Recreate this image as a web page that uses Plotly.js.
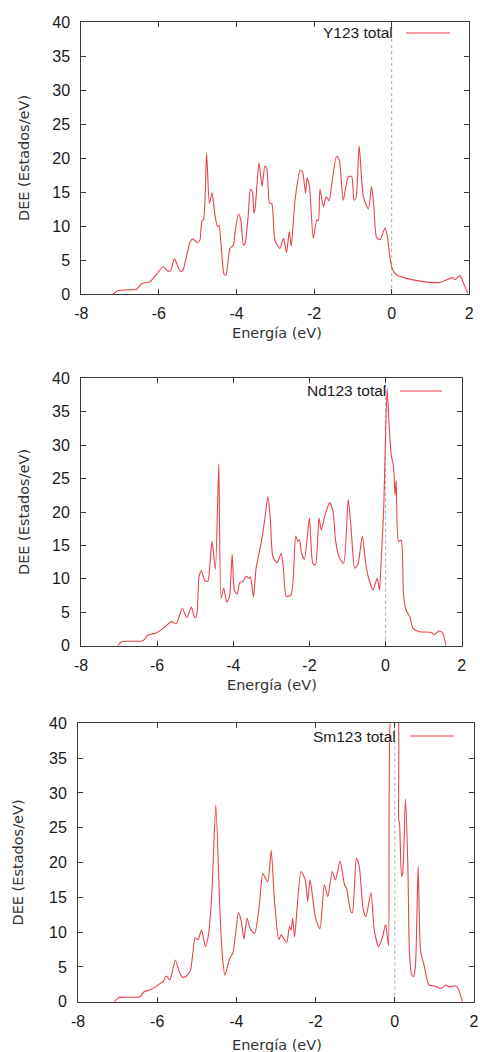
<!DOCTYPE html>
<html>
<head>
<meta charset="utf-8">
<script src="https://cdn.plot.ly/plotly-3.0.1.min.js"></script>
<style>
  html, body { margin: 0; padding: 0; background: #ffffff; }
  #chart { width: 480px; height: 1052px; }
</style>
</head>
<body>
<div id="chart"></div>
<script>
// ---------- data ----------
const xTickVals = [-8, -6, -4, -2, 0, 2];
const xTickText = ["-8", "-6", "-4", "-2", "0", "2"];
const yTickVals = [0, 5, 10, 15, 20, 25, 30, 35, 40];
const yTickText = ["0", "5", "10", "15", "20", "25", "30", "35", "40"];

const seriesNames = ["Y123 total", "Nd123 total", "Sm123 total"];
const xTitle = "Energía (eV)";
const yTitle = "DEE (Estados/eV)";

const energyY = [-7.18,-7.05,-6.80,-6.57,-6.45,-6.23,-6.06,-5.89,-5.78,-5.70,-5.60,-5.46,-5.39,-5.20,-5.13,-5.00,-4.94,-4.89,-4.85,-4.77,-4.70,-4.63,-4.56,-4.49,-4.45,-4.39,-4.32,-4.27,-4.17,-4.08,-4.04,-3.95,-3.89,-3.82,-3.78,-3.70,-3.64,-3.59,-3.55,-3.52,-3.42,-3.34,-3.27,-3.22,-3.15,-3.09,-3.01,-2.88,-2.79,-2.71,-2.64,-2.59,-2.49,-2.36,-2.30,-2.22,-2.18,-2.12,-2.02,-1.93,-1.89,-1.85,-1.76,-1.69,-1.61,-1.55,-1.42,-1.35,-1.25,-1.12,-1.03,-0.97,-0.92,-0.84,-0.73,-0.60,-0.52,-0.46,-0.39,-0.30,-0.17,-0.11,-0.04,0.02,0.13,0.38,0.73,1.24,1.50,1.59,1.63,1.76,1.85,1.96];
const doseY   = [0,0.5,0.6,0.7,1.5,1.8,2.9,4.0,3.4,3.4,5.2,3.4,3.4,7.6,8.1,7.5,8.0,10.8,10.9,20.7,13.3,14.9,11.8,9.9,10.1,6.7,2.9,2.8,6.7,7.2,8.9,11.8,10.9,7.2,7.4,11.4,15.4,15.0,11.9,12.6,19.3,15.8,18.8,18.5,13.4,13.3,7.9,6.7,8.2,6.1,9.2,7.0,13.9,18.2,18.0,14.8,17.1,15.8,8.2,10.9,10.8,15.4,12.8,14.3,13.7,16.0,20.3,19.7,13.8,17.2,17.3,13.8,14.1,21.8,14.3,12.5,15.8,12.9,8.3,8.0,9.7,8.4,5.2,3.6,2.8,2.3,1.9,1.7,2.3,2.4,2.1,2.7,1.6,0.1];

const energyNd = [-7.03,-6.94,-6.37,-6.24,-6.02,-5.80,-5.63,-5.50,-5.34,-5.22,-5.10,-5.02,-4.97,-4.90,-4.84,-4.75,-4.67,-4.56,-4.47,-4.38,-4.32,-4.25,-4.17,-4.10,-4.03,-3.97,-3.90,-3.83,-3.75,-3.66,-3.59,-3.55,-3.47,-3.40,-3.26,-3.18,-3.09,-3.03,-2.96,-2.85,-2.74,-2.68,-2.61,-2.48,-2.36,-2.30,-2.26,-2.21,-2.13,-2.00,-1.91,-1.84,-1.75,-1.69,-1.60,-1.47,-1.38,-1.31,-1.21,-1.10,-0.98,-0.90,-0.81,-0.73,-0.61,-0.51,-0.42,-0.33,-0.22,-0.16,-0.11,-0.05,0.04,0.09,0.15,0.21,0.25,0.28,0.34,0.41,0.47,0.54,0.64,0.72,0.89,1.20,1.28,1.40,1.49,1.59];
const doseNd   = [0,0.6,0.75,1.6,1.9,2.8,3.6,3.3,5.6,4.2,5.8,4.3,4.3,10.3,11.2,9.8,9.6,15.6,11.4,27.2,7.1,8.6,6.5,7.3,13.7,8.3,7.7,9.4,9.6,10.4,10.1,10.3,7.3,11.6,15.6,18.6,22.3,19.3,13.3,12.4,13.8,11.3,7.4,7.6,16.4,15.6,15.8,13.9,12.9,19.1,12.3,12.1,19.1,17.3,19.3,21.4,20.1,15.6,13.1,12.3,21.9,17.1,11.6,12.1,16.4,11.8,9.6,8.3,10.1,8.3,13.4,20.3,38.5,33.3,28.5,26.8,22.5,24.7,15.6,15.8,7.8,5.3,4.3,2.6,2.1,2.0,1.6,2.2,2.0,0];

const energySm = [-7.08,-6.97,-6.44,-6.34,-6.14,-5.93,-5.85,-5.77,-5.68,-5.54,-5.43,-5.35,-5.26,-5.16,-5.04,-4.97,-4.88,-4.78,-4.70,-4.62,-4.52,-4.42,-4.36,-4.29,-4.17,-4.09,-4.02,-3.95,-3.88,-3.81,-3.73,-3.65,-3.54,-3.43,-3.33,-3.21,-3.12,-3.04,-2.93,-2.87,-2.73,-2.66,-2.62,-2.58,-2.53,-2.37,-2.26,-2.20,-2.14,-2.00,-1.89,-1.78,-1.69,-1.58,-1.50,-1.38,-1.27,-1.22,-1.11,-1.07,-0.97,-0.90,-0.80,-0.73,-0.60,-0.52,-0.41,-0.31,-0.23,-0.16,-0.07,0.00,0.06,0.10,0.12,0.17,0.20,0.27,0.33,0.37,0.42,0.47,0.52,0.59,0.65,0.75,0.86,1.03,1.16,1.29,1.37,1.54,1.60,1.71];
const doseSm   = [0,0.6,0.7,1.4,1.8,2.6,2.9,3.7,3.1,6.0,4.1,3.5,3.7,4.5,9.2,8.9,10.3,7.9,9.8,15.6,28.3,13.7,6.9,3.8,6.2,7.0,9.8,12.8,11.7,9.0,12.0,10.5,9.8,13.4,18.4,17.2,21.7,14.6,8.9,9.6,8.5,10.8,10.3,12.0,9.3,18.7,17.5,14.4,17.5,12.0,10.5,16.8,15.1,18.7,17.5,20.2,16.8,16.3,12.9,12.8,20.6,19.6,13.3,12.2,15.7,10.3,7.9,9.3,11.1,8.0,45.0,45.0,45.0,26.1,25.6,18.0,18.5,29.1,19.4,7.0,4.0,3.6,5.0,19.5,7.4,5.0,2.4,2.2,1.9,2.4,2.1,2.3,1.9,0];

// ---------- layout geometry (pixels in the 480x1052 page) ----------
const W = 480, H = 1052;
const panels = [
  { x: energyY,  y: doseY,  name: seriesNames[0], left: 81.3, right: 469.3, top: 22,    bottom: 294,
    legText: 395, legL: 406, legR: 450, legY: 33,
    yTitleX: 24, xTitleY: 333, xTitleX: 277 },
  { x: energyNd, y: doseNd, name: seriesNames[1], left: 81,   right: 461.7, top: 378.3, bottom: 645.7,
    legText: 388, legL: 400, legR: 442, legY: 391,
    yTitleX: 24, xTitleY: 685, xTitleX: 272 },
  { x: energySm, y: doseSm, name: seriesNames[2], left: 78,   right: 474,   top: 723.3, bottom: 1001.7,
    legText: 398, legL: 410, legR: 454, legY: 736,
    yTitleX: 17, xTitleY: 1045, xTitleX: 277 }
];

const lineColor = "#e8434b";
const frameColor = "#3a3a3a";
const tickFont = { family: "Liberation Sans, Arial, sans-serif", size: 16, color: "#1a1a1a" };
const titleFont = { family: "DejaVu Sans, Verdana, sans-serif", size: 14.5, color: "#333333" };

const px = v => v / W;
const py = v => 1 - v / H;

const traces = [];
const layout = {
  width: W, height: H,
  margin: { l: 0, r: 0, t: 0, b: 0, pad: 0 },
  paper_bgcolor: "#ffffff",
  plot_bgcolor: "#ffffff",
  showlegend: false,
  annotations: [],
  shapes: []
};

panels.forEach((p, i) => {
  const sfx = i === 0 ? "" : String(i + 1);
  traces.push({
    type: "scatter", mode: "lines",
    x: p.x, y: p.y, name: p.name,
    xaxis: "x" + sfx, yaxis: "y" + sfx,
    line: { color: lineColor, width: 1.1, shape: "spline", smoothing: 0.6 },
    hoverinfo: "skip"
  });
  layout["xaxis" + sfx] = {
    domain: [px(p.left), px(p.right)],
    anchor: "y" + sfx,
    range: [-8, 2],
    tickmode: "array", tickvals: xTickVals, ticktext: xTickText,
    ticks: "inside", ticklen: 5, tickwidth: 1, tickcolor: frameColor,
    showline: true, linecolor: frameColor, linewidth: 1, mirror: "ticks",
    showgrid: false, zeroline: false,
    tickfont: tickFont, ticklabelstandoff: 5, ticklabeloverflow: "allow"
  };
  layout["yaxis" + sfx] = {
    domain: [py(p.bottom), py(p.top)],
    anchor: "x" + sfx,
    range: [0, 40],
    tickmode: "array", tickvals: yTickVals, ticktext: yTickText,
    ticks: "inside", ticklen: 5, tickwidth: 1, tickcolor: frameColor,
    showline: true, linecolor: frameColor, linewidth: 1, mirror: "ticks",
    showgrid: false, zeroline: false,
    tickfont: tickFont, ticklabelstandoff: 7
  };
  // dotted Fermi level marker
  layout.shapes.push({
    type: "line", xref: "x" + sfx, yref: "y" + sfx + " domain",
    x0: 0, x1: 0, y0: 0, y1: 1, layer: "below",
    line: { color: "#aaaaaa", width: 1, dash: "dot" }
  });
  // legend sample line
  layout.shapes.push({
    type: "line", xref: "paper", yref: "paper",
    x0: px(p.legL), x1: px(p.legR), y0: py(p.legY), y1: py(p.legY),
    line: { color: lineColor, width: 1.1 }
  });
  // legend text
  layout.annotations.push({
    xref: "paper", yref: "paper", x: px(p.legText), y: py(p.legY),
    xanchor: "right", yanchor: "middle", showarrow: false,
    text: p.name, font: { family: "Liberation Sans, Arial, sans-serif", size: 15.5, color: "#1a1a1a" }
  });
  // axis titles
  layout.annotations.push({
    xref: "paper", yref: "paper", x: px(p.xTitleX), y: py(p.xTitleY),
    xanchor: "center", yanchor: "middle", showarrow: false,
    text: xTitle, font: titleFont
  });
  layout.annotations.push({
    xref: "paper", yref: "paper", x: px(p.yTitleX), y: py((p.top + p.bottom) / 2),
    xanchor: "center", yanchor: "middle", showarrow: false, textangle: -90,
    text: yTitle, font: titleFont
  });
});

Plotly.newPlot("chart", traces, layout, { staticPlot: true, displayModeBar: false });
</script>
</body>
</html>
